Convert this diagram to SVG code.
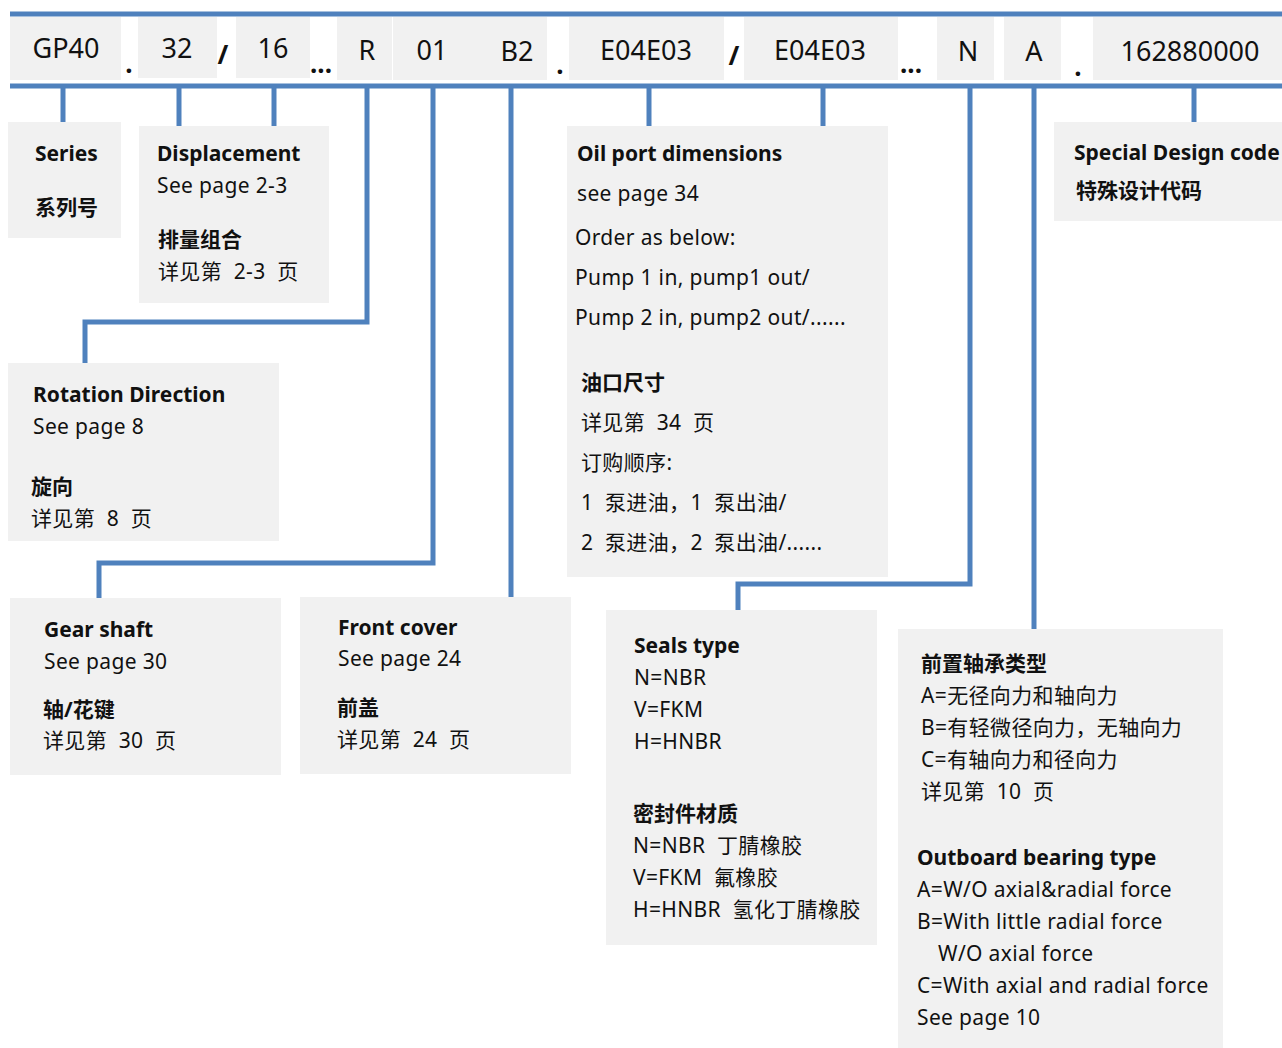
<svg xmlns="http://www.w3.org/2000/svg" width="1282" height="1048" viewBox="0 0 1282 1048">
<style>
text{font-family:"Noto Sans","Noto Sans CJK SC",sans-serif;fill:#111}
.box{fill:#f1f1f1}
.code{font-size:27px}
.sep{font-size:26px;font-weight:bold}
.t{font-size:21px;letter-spacing:0.35px}
.b{font-size:21px;font-weight:bold}
.c{fill:none;stroke:#4f81bd;stroke-width:5}
</style>
<rect width="1282" height="1048" fill="#fff"/>
<g id="codes">
<rect class="box" x="10" y="17" width="111" height="63"/>
<rect class="box" x="138" y="17" width="79" height="61"/>
<rect class="box" x="236" y="17" width="74" height="61"/>
<rect class="box" x="337" y="17" width="55" height="63"/>
<rect class="box" x="393" y="17" width="78" height="63"/>
<rect class="box" x="471" y="17" width="76" height="63"/>
<rect class="box" x="569" y="17" width="155" height="63"/>
<rect class="box" x="744" y="17" width="154" height="63"/>
<rect class="box" x="937" y="17" width="57" height="63"/>
<rect class="box" x="1004" y="17" width="57" height="63"/>
<rect class="box" x="1093" y="17" width="189" height="63"/>
<text class="code" x="66" y="58" text-anchor="middle">GP40</text>
<text class="sep" x="129" y="73" text-anchor="middle">.</text>
<text class="code" x="177" y="58" text-anchor="middle">32</text>
<text class="sep" x="223" y="64" text-anchor="middle">/</text>
<text class="code" x="273" y="58" text-anchor="middle">16</text>
<text class="sep" x="321" y="73" text-anchor="middle">...</text>
<text class="code" x="367" y="60" text-anchor="middle">R</text>
<text class="code" x="432" y="60" text-anchor="middle">01</text>
<text class="code" x="517" y="61" text-anchor="middle">B2</text>
<text class="sep" x="560" y="74" text-anchor="middle">.</text>
<text class="code" x="646" y="60" text-anchor="middle">E04E03</text>
<text class="sep" x="734" y="65" text-anchor="middle">/</text>
<text class="code" x="820" y="60" text-anchor="middle">E04E03</text>
<text class="sep" x="911" y="73" text-anchor="middle">...</text>
<text class="code" x="968" y="61" text-anchor="middle">N</text>
<text class="code" x="1034" y="61" text-anchor="middle">A</text>
<text class="sep" x="1078" y="76" text-anchor="middle">.</text>
<text class="code" x="1190" y="61" text-anchor="middle">162880000</text>
</g>
<g id="connectors">
<line class="c" x1="10" y1="14" x2="1282" y2="14"/>
<line class="c" x1="10" y1="86" x2="1282" y2="86"/>
<polyline class="c" points="63,86 63,124"/>
<polyline class="c" points="179,86 179,126"/>
<polyline class="c" points="274,86 274,126"/>
<polyline class="c" points="367,86 367,322 85,322 85,363"/>
<polyline class="c" points="433,86 433,563 99,563 99,598"/>
<polyline class="c" points="511,86 511,597"/>
<polyline class="c" points="649,86 649,126"/>
<polyline class="c" points="823,86 823,126"/>
<polyline class="c" points="970,86 970,584 738,584 738,610"/>
<polyline class="c" points="1034,86 1034,629"/>
<polyline class="c" points="1194,86 1194,122"/>
</g>
<g id="series">
<rect class="box" x="8" y="122" width="113" height="116"/>
<text class="b" x="35" y="161">Series</text>
<text class="b" x="35" y="215">系列号</text>
</g>
<g id="displacement">
<rect class="box" x="139" y="126" width="190" height="177"/>
<text class="b" x="157" y="161">Displacement</text>
<text class="t" x="157" y="193">See page 2-3</text>
<text class="b" x="158" y="247">排量组合</text>
<text class="t" x="158" y="279" xml:space="preserve">详见第  2-3  页</text>
</g>
<g id="rotation">
<rect class="box" x="8" y="363" width="271" height="178"/>
<text class="b" x="33" y="402">Rotation Direction</text>
<text class="t" x="33" y="434">See page 8</text>
<text class="b" x="31" y="494">旋向</text>
<text class="t" x="31" y="526" xml:space="preserve">详见第  8  页</text>
</g>
<g id="gearshaft">
<rect class="box" x="10" y="598" width="271" height="177"/>
<text class="b" x="44" y="637">Gear shaft</text>
<text class="t" x="44" y="669">See page 30</text>
<text class="b" x="43" y="717">轴/花键</text>
<text class="t" x="43" y="748" xml:space="preserve">详见第  30  页</text>
</g>
<g id="frontcover">
<rect class="box" x="300" y="597" width="271" height="177"/>
<text class="b" x="338" y="635">Front cover</text>
<text class="t" x="338" y="666">See page 24</text>
<text class="b" x="337" y="715">前盖</text>
<text class="t" x="337" y="747" xml:space="preserve">详见第  24  页</text>
</g>
<g id="oilport">
<rect class="box" x="567" y="126" width="321" height="451"/>
<text class="b" x="577" y="161">Oil port dimensions</text>
<text class="t" x="577" y="201">see page 34</text>
<text class="t" x="575" y="245">Order as below:</text>
<text class="t" x="575" y="285">Pump 1 in, pump1 out/</text>
<text class="t" x="575" y="325">Pump 2 in, pump2 out/......</text>
<text class="b" x="581" y="390">油口尺寸</text>
<text class="t" x="581" y="430" xml:space="preserve">详见第  34  页</text>
<text class="t" x="581" y="470">订购顺序:</text>
<text class="t" x="581" y="510" xml:space="preserve">1  泵进油，1  泵出油/</text>
<text class="t" x="581" y="550" xml:space="preserve">2  泵进油，2  泵出油/......</text>
</g>
<g id="seals">
<rect class="box" x="606" y="610" width="271" height="335"/>
<text class="b" x="634" y="653">Seals type</text>
<text class="t" x="634" y="685">N=NBR</text>
<text class="t" x="634" y="717">V=FKM</text>
<text class="t" x="634" y="749">H=HNBR</text>
<text class="b" x="633" y="821">密封件材质</text>
<text class="t" x="633" y="853" xml:space="preserve">N=NBR  丁腈橡胶</text>
<text class="t" x="633" y="885" xml:space="preserve">V=FKM  氟橡胶</text>
<text class="t" x="633" y="917" xml:space="preserve">H=HNBR  氢化丁腈橡胶</text>
</g>
<g id="bearing">
<rect class="box" x="898" y="629" width="325" height="419"/>
<text class="b" x="921" y="671">前置轴承类型</text>
<text class="t" x="921" y="703">A=无径向力和轴向力</text>
<text class="t" x="921" y="735">B=有轻微径向力，无轴向力</text>
<text class="t" x="921" y="767">C=有轴向力和径向力</text>
<text class="t" x="921" y="799" xml:space="preserve">详见第  10  页</text>
<text class="b" x="917" y="865">Outboard bearing type</text>
<text class="t" x="917" y="897">A=W/O axial&amp;radial force</text>
<text class="t" x="917" y="929">B=With little radial force</text>
<text class="t" x="938" y="961">W/O axial force</text>
<text class="t" x="917" y="993">C=With axial and radial force</text>
<text class="t" x="917" y="1025">See page 10</text>
</g>
<g id="special">
<rect class="box" x="1054" y="122" width="228" height="99"/>
<text class="b" x="1074" y="160">Special Design code</text>
<text class="b" x="1076" y="198">特殊设计代码</text>
</g>
</svg>
